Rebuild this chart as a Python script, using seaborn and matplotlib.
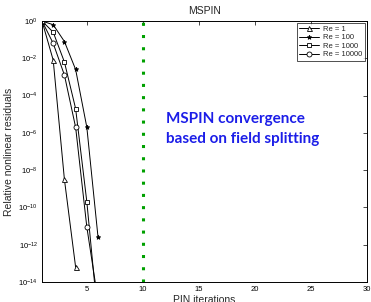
import numpy as np
import pandas as pd
import matplotlib
matplotlib.use("Agg")
import matplotlib.pyplot as plt
import seaborn as sns

# ---- data ----
iters_re1 = [1, 2, 3, 4]
res_re1 = [1.0, 10**-2.1, 10**-8.5, 10**-13.2]
iters_re100 = [1, 2, 3, 4, 5, 6]
res_re100 = [1.0, 10**-0.2, 10**-1.1, 10**-2.6, 10**-5.7, 10**-11.6]
iters_re1000 = [1, 2, 3, 4, 5, 6]
res_re1000 = [1.0, 10**-0.6, 10**-2.2, 10**-4.7, 10**-9.7, 10**-16.0]
iters_re10000 = [1, 2, 3, 4, 5, 6]
res_re10000 = [1.0, 10**-1.2, 10**-2.9, 10**-5.7, 10**-11.05, 10**-15.0]
labels = ["Re = 1", "Re = 100", "Re = 1000", "Re = 10000"]
mspin_iter = 10
xticks = [5, 10, 15, 20, 25, 30]
yticks_exp = [0, -2, -4, -6, -8, -10, -12, -14]

sns.set_theme(style="white")
plt.rcParams['font.family'] = ['Liberation Sans', 'DejaVu Sans']
plt.rcParams['mathtext.fontset'] = 'custom'
plt.rcParams['mathtext.rm'] = 'Liberation Sans'
plt.rcParams['mathtext.it'] = 'Liberation Sans'

fig = plt.figure(figsize=(3.71, 3.02), dpi=100)
ax = fig.add_axes([42/371, 1-282/302, (367-42)/371, (282-21)/302])

series = [
    (iters_re1, res_re1, '^', 'white', 3.6),
    (iters_re100, res_re100, '*', 'black', 3.3),
    (iters_re1000, res_re1000, 's', 'white', 3.2),
    (iters_re10000, res_re10000, 'o', 'white', 3.6),
]
for (xs, ys, mk, fc, ms), lab in zip(series, labels):
    df = pd.DataFrame({"x": xs, "y": ys})
    sns.lineplot(data=df, x="x", y="y", ax=ax, color='black', lw=0.7,
                 marker=mk, markersize=ms, markerfacecolor=fc,
                 markeredgecolor='black', markeredgewidth=0.6, label=lab)

ax.axvline(mspin_iter, color='#00a000', lw=2.2, linestyle=(0, (1, 3)))

ax.set_yscale('log')
ax.set_xlim(1, 30)
ax.set_ylim(1e-14, 1)
ax.set_xticks(xticks)
ax.set_yticks([10.0**e for e in yticks_exp])
ax.minorticks_off()
ax.tick_params(axis='both', which='major', direction='in', length=3, width=0.5,
               labelsize=5.5, top=True, right=True, pad=3, colors='black')
for s in ax.spines.values():
    s.set_visible(True)
    s.set_color('black')
    s.set_linewidth(0.7)

ax.set_title("MSPIN", fontsize=7.5, pad=5)
ax.set_xlabel("PIN iterations", fontsize=7.5, labelpad=1.5)
ax.set_ylabel("Relative nonlinear residuals", fontsize=7.5, labelpad=3)

leg = ax.legend(loc='upper right', fontsize=5.5, frameon=True, fancybox=False,
                edgecolor='black', borderpad=0.3, handlelength=2.6,
                labelspacing=0.15, handletextpad=0.5, borderaxespad=0.3)
leg.get_frame().set_linewidth(0.6)

ax.text(0.38, 0.585, "MSPIN convergence\nbased on field splitting",
        transform=ax.transAxes, ha='left', va='center', color='#1c1ee8',
        fontsize=11, fontweight='bold', family=['Lato', 'DejaVu Sans'],
        linespacing=1.55)

fig.savefig("out.png", dpi=100)
